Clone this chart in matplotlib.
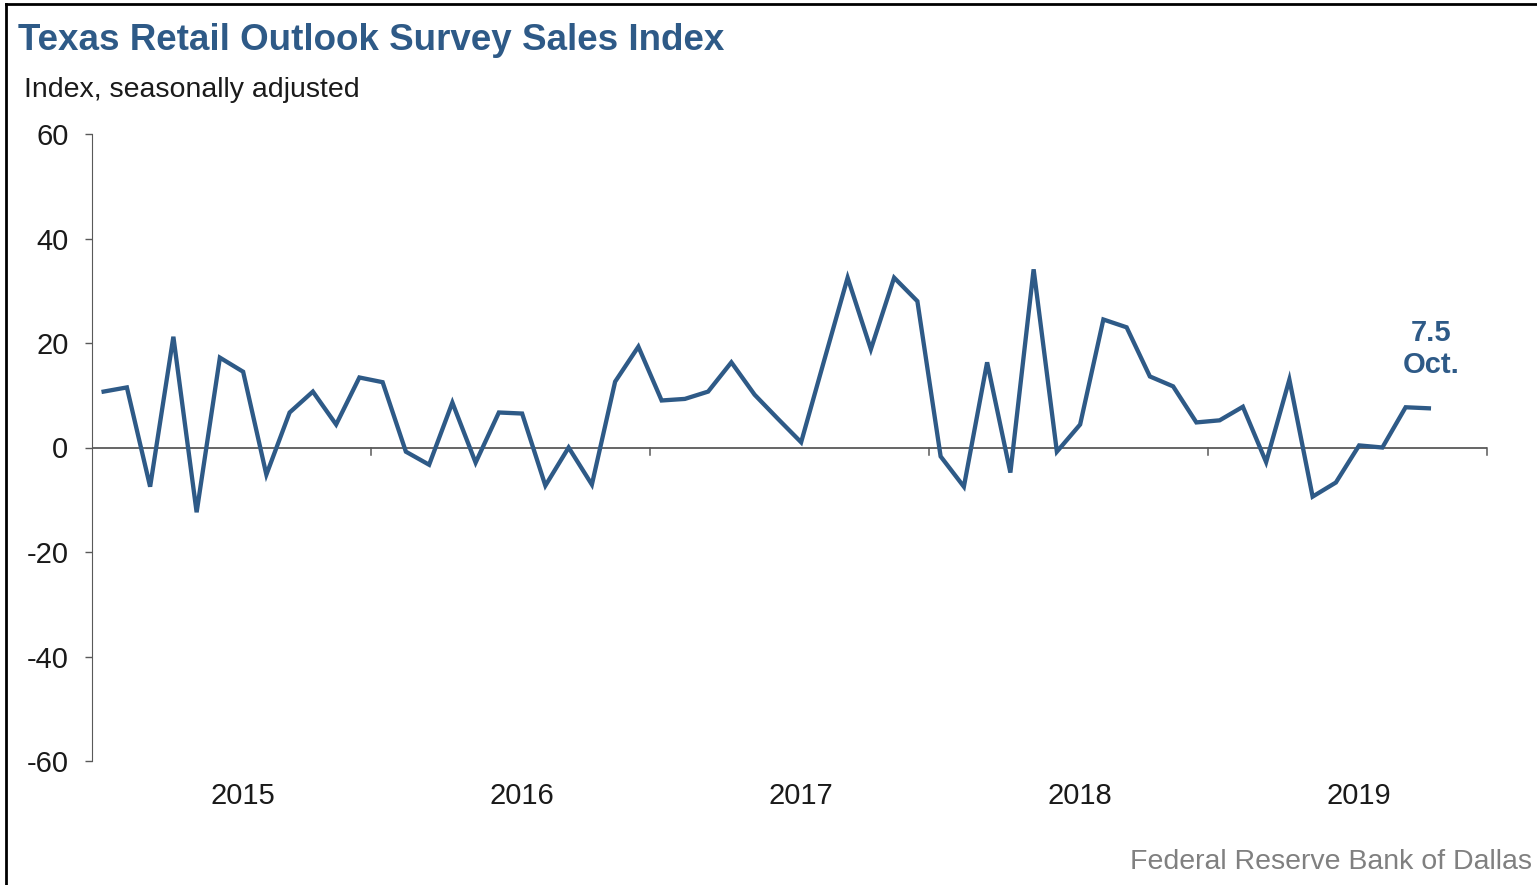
import matplotlib.pyplot as plt
from matplotlib.lines import Line2D

plt.rcParams['font.family'] = ['Liberation Sans', 'DejaVu Sans']

# monthly sales index, Jan 2015 - Oct 2019
sales_index = [10.7, 11.5, -7.5, 21.2, -12.4, 17.2, 14.5, -5.2, 6.7, 10.7, 4.4, 13.4,
               12.5, -0.8, -3.3, 8.6, -2.9, 6.7, 6.5, -7.3, 0.0, -7.1, 12.6, 19.3,
               9.0, 9.3, 10.7, 16.3, 10.1, 5.5, 1.0, 16.8, 32.5, 18.8, 32.5, 28.0,
               -1.7, -7.5, 16.3, -4.8, 34.1, -0.8, 4.4, 24.5, 23.0, 13.6, 11.7, 4.8,
               5.2, 7.8, -2.8, 13.0, -9.4, -6.7, 0.4, 0.0, 7.7, 7.5]
years = ['2015', '2016', '2017', '2018', '2019']
y_ticks = [-60, -40, -20, 0, 20, 40, 60]
last_label = '7.5\nOct.'

blue = '#2E5A87'
grey = '#595959'

fig = plt.figure(figsize=(15.37, 8.85), dpi=100)
ax = fig.add_axes([92 / 1537, 1 - 761 / 885, (1487 - 92) / 1537, (761 - 134) / 885])

months = list(range(len(sales_index)))
ax.plot(months, sales_index, color=blue, lw=3.1, solid_joinstyle='miter')

ax.set_xlim(-0.5, 59.5)
ax.set_ylim(-60, 60)
ax.set_yticks(y_ticks)
ax.set_yticklabels([str(v) for v in y_ticks], fontsize=21, color='#1a1a1a')
ax.tick_params(axis='y', direction='out', length=5, width=1, color=grey, pad=12)

# x axis drawn as the zero line, year ticks at boundaries, labels mid-year
for s in ['top', 'right', 'bottom']:
    ax.spines[s].set_visible(False)
ax.spines['left'].set_color(grey)
ax.axhline(0, color=grey, lw=1.3, zorder=1)
ax.set_xticks([])
for k, yr in enumerate(years):
    b = 11.5 + 12 * k
    ax.plot([b, b], [0, -1.4], color=grey, lw=1.1, clip_on=False)
    ax.text(6 + 12 * k, -64, yr, ha='center', va='top', fontsize=21, color='#1a1a1a')

ax.text(57.1, 18.8, last_label, ha='center', va='center', fontsize=21,
        fontweight='bold', color=blue, linespacing=1.2)

fig.text(18 / 1537, 1 - 40 / 885, 'Texas Retail Outlook Survey Sales Index',
         fontsize=26.5, fontweight='bold', color=blue, va='center')
fig.text(24 / 1537, 1 - 90 / 885, 'Index, seasonally adjusted',
         fontsize=20.5, color='#1a1a1a', va='center')
fig.text(0.997, 1 - 862 / 885, 'Federal Reserve Bank of Dallas',
         fontsize=20.5, color='#808080', ha='right', va='center')

# screenshot border
fig.add_artist(Line2D([6 / 1537, 6 / 1537], [0, 1 - 4 / 885], color='black', lw=2,
                      transform=fig.transFigure))
fig.add_artist(Line2D([6 / 1537, 1], [1 - 4 / 885, 1 - 4 / 885], color='black', lw=2,
                      transform=fig.transFigure))

fig.savefig('out.png', dpi=100)
